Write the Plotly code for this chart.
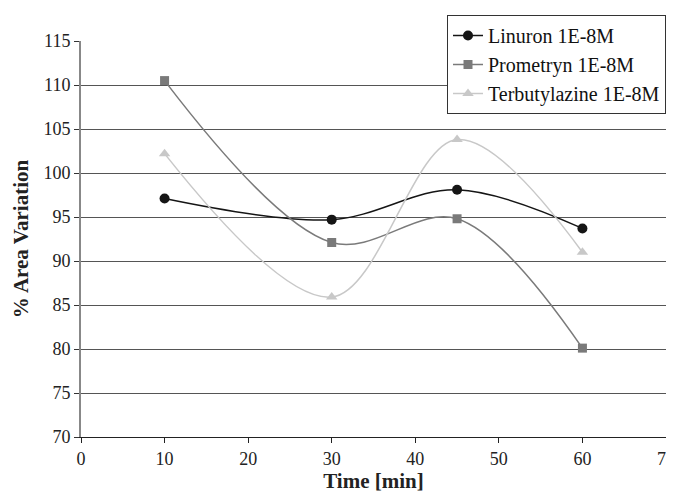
import plotly.graph_objects as go

time_min = [10, 30, 45, 60]
linuron = [97.1, 94.7, 98.1, 93.7]
prometryn = [110.5, 92.1, 94.8, 80.1]
terbutylazine = [102.2, 85.9, 103.8, 91.0]

series = [
    ("Linuron 1E-8M", linuron, "#151515", "circle", 10),
    ("Prometryn 1E-8M", prometryn, "#7a7a7a", "square", 9),
    ("Terbutylazine 1E-8M", terbutylazine, "#c8c8c8", "triangle-up", 10),
]

fig = go.Figure()
for name, vals, col, sym, sz in series:
    fig.add_trace(go.Scatter(
        x=time_min, y=vals, name=name, mode="lines+markers",
        line=dict(color=col, width=1.5, shape="spline", smoothing=1.0),
        marker=dict(color=col, symbol=sym, size=sz),
    ))

font = "Liberation Serif"
# page body has an 8px default margin, so the figure is 8px smaller
W, H = 666, 487
fig.update_layout(
    width=W, height=H,
    margin=dict(l=73, r=8, t=33, b=58, autoexpand=False),
    paper_bgcolor="white", plot_bgcolor="white",
    font=dict(family=font, size=18, color="#222"),
    showlegend=True,
    legend=dict(
        xref="container", yref="container",
        x=(447 - 8) / W, y=1 - (15 - 8) / H, xanchor="left", yanchor="top",
        bordercolor="#333", borderwidth=1, bgcolor="white",
        font=dict(family=font, size=20, color="#111"),
        tracegroupgap=0, itemwidth=30,
    ),
    xaxis=dict(
        range=[0, 70], dtick=10, tick0=0,
        showgrid=False, zeroline=False, automargin=False,
        showline=True, linecolor="#222", linewidth=1,
        ticks="outside", ticklen=5, tickcolor="#222",
        ticklabeloverflow="allow",
        title=dict(text="<b>Time [min]</b>", font=dict(family=font, size=21), standoff=0),
    ),
    yaxis=dict(
        range=[70, 115], dtick=5, tick0=70,
        showgrid=True, gridcolor="#555", gridwidth=1,
        zeroline=False, automargin=False,
        showline=True, linecolor="#888", linewidth=2,
        ticks="outside", ticklen=5, tickcolor="#333",
        title=dict(text="<b>% Area Variation</b>", font=dict(family=font, size=21), standoff=9),
    ),
)

fig.write_html("out.html")
